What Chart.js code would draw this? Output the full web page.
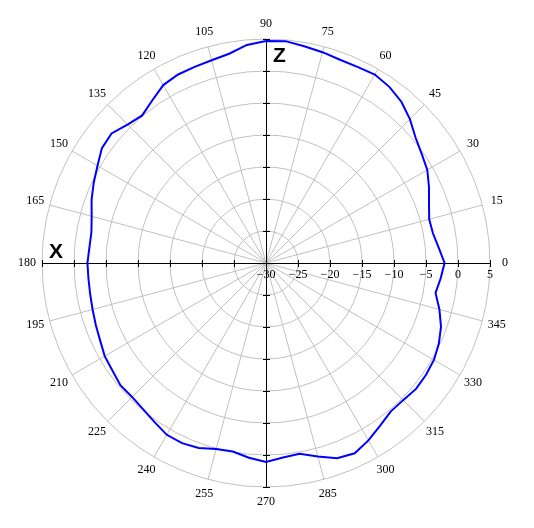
<!DOCTYPE html>
<html>
<head>
<meta charset="utf-8">
<script src="https://cdn.jsdelivr.net/npm/chart.js@4/dist/chart.umd.min.js"></script>
<style>
  html, body { margin: 0; padding: 0; background: #ffffff; }
  canvas { display: block; }
</style>
</head>
<body>
<canvas id="c" width="534" height="528"></canvas>
<script>
// ---- data (angles in degrees, counter-clockwise from +X; gain in dB) ----
const angles = [0, 5, 10, 15, 20, 25, 30, 35, 40, 45, 50, 55, 60, 65, 70, 75, 80, 85,
                90, 95, 100, 105, 110, 115, 120, 125, 130, 135, 140, 145, 150, 155, 160, 165, 170, 175,
                180, 185, 190, 195, 200, 205, 210, 215, 220, 225, 230, 235, 240, 245, 250, 255, 260, 265,
                270, 275, 280, 285, 290, 295, 300, 305, 310, 315, 320, 325, 330, 335, 340, 345, 350, 355];
const gain = [-2.1, -2.9, -3.5, -3.6, -2.9, -1.9, -0.9, -0.3, 0.5, 1.8, 2.9, 3.6, 4.0, 3.8, 3.8, 4.1, 4.4, 4.8,
              4.7, 4.2, 3.2, 2.8, 2.6, 2.5, 2.1, 1.0, 0.1, 0.6, 1.5, 1.3, 0.4, -0.3, -1.0, -1.8, -2.3, -2.3,
              -2.1, -2.15, -2.1, -1.95, -1.7, -1.4, -0.9, -0.7, -0.3, -0.4, -0.15, 0.35, 1.0, 1.05, 0.75, 0.1, -0.1, 0.55,
              1.1, 0.5, 0.25, 1.3, 2.45, 2.8, 2.0, 1.05, 0.3, 0.3, 0.6, 0.5, 0.3, -0.2, -0.9, -1.95, -3.1, -2.6];
const radialTicks = [-30, -25, -20, -15, -10, -5, 0, 5];
const angleTickLabels = [0, 15, 30, 45, 60, 75, 90, 105, 120, 135, 150, 165,
                         180, 195, 210, 225, 240, 255, 270, 285, 300, 315, 330, 345];
const axisNames = { x: 'X', z: 'Z' };

// Radar goes clockwise; reorder so that angles run counter-clockwise.
const n = angles.length;
const chartLabels = angles.map((a, i) => angles[(n - i) % n]);
const chartData = angles.map((a, i) => gain[(n - i) % n]);

const serif = '12px "Liberation Serif", "Times New Roman", serif';

const overlay = {
  id: 'overlay',
  beforeDatasetsDraw(chart) {
    const s = chart.scales.r;
    const ctx = chart.ctx;
    const cx = s.xCenter, cy = s.yCenter, R = s.drawingArea;
    ctx.save();
    ctx.strokeStyle = '#000000';
    ctx.lineWidth = 1;
    ctx.beginPath();
    ctx.moveTo(cx - R, cy + 0.5); ctx.lineTo(cx + R, cy + 0.5);
    ctx.moveTo(cx + 0.5, cy - R); ctx.lineTo(cx + 0.5, cy + R);
    radialTicks.forEach(v => {
      const d = s.getDistanceFromCenterForValue(v);
      if (d <= 0) return;
      [-1, 1].forEach(sg => {
        const px = Math.round(cx + sg * d) + 0.5;
        ctx.moveTo(px, cy - 3); ctx.lineTo(px, cy + 4);
        const py = Math.round(cy + sg * d) + 0.5;
        ctx.moveTo(cx - 3, py); ctx.lineTo(cx + 4, py);
      });
    });
    ctx.stroke();
    ctx.restore();
  },
  afterDraw(chart) {
    const s = chart.scales.r;
    const ctx = chart.ctx;
    const cx = s.xCenter, cy = s.yCenter, R = s.drawingArea;
    ctx.save();
    ctx.fillStyle = '#000000';
    ctx.font = serif;
    // radial tick labels along +X axis
    ctx.textAlign = 'center';
    ctx.textBaseline = 'alphabetic';
    radialTicks.forEach(v => {
      const d = s.getDistanceFromCenterForValue(v);
      ctx.fillText(String(v).replace('-', '\u2212'), cx + d, cy + 15);
    });
    // angle labels around the outside
    ctx.textBaseline = 'middle';
    angleTickLabels.forEach(a => {
      const t = a * Math.PI / 180;
      const off = R + 15;
      ctx.fillText(String(a), cx + off * Math.cos(t), cy - off * Math.sin(t));
    });
    // axis names
    ctx.font = 'bold 21px "Liberation Sans", Arial, sans-serif';
    ctx.textAlign = 'left';
    ctx.textBaseline = 'alphabetic';
    ctx.fillText(axisNames.x, 49, 258);
    ctx.fillText(axisNames.z, 273, 62);
    ctx.restore();
  }
};

new Chart(document.getElementById('c'), {
  type: 'radar',
  data: {
    labels: chartLabels,
    datasets: [{
      data: chartData,
      borderColor: '#0000ff',
      borderWidth: 2,
      fill: false,
      pointRadius: 0,
      pointHoverRadius: 0,
      tension: 0
    }]
  },
  options: {
    responsive: false,
    animation: false,
    layout: { padding: { left: 42, right: 44, top: 39, bottom: 41 } },
    plugins: { legend: { display: false }, tooltip: { enabled: false } },
    scales: {
      r: {
        startAngle: 90,
        min: -30,
        max: 5,
        ticks: { stepSize: 5, display: false },
        pointLabels: { display: false },
        grid: { circular: true, color: '#c0c0c0', lineWidth: 1 },
        angleLines: {
          display: true,
          color: '#c0c0c0',
          lineWidth: (c) => (chartLabels[c.index] % 15 === 0 && chartLabels[c.index] % 90 !== 0) ? 1 : 0
        }
      }
    }
  },
  plugins: [overlay]
});
</script>
</body>
</html>
